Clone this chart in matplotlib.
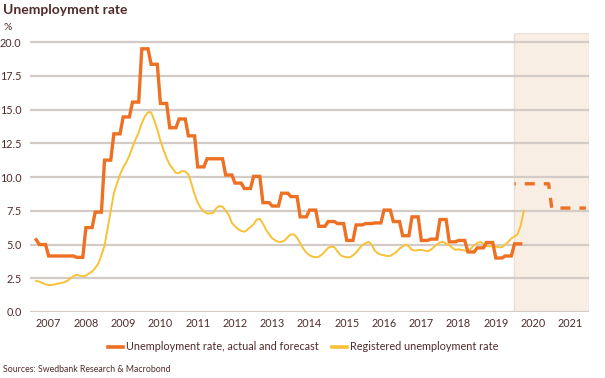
import numpy as np
import pandas as pd
import matplotlib
matplotlib.use("Agg")
import matplotlib.pyplot as plt
from matplotlib.lines import Line2D

# LFS unemployment rate, quarterly 2007Q1 - 2020Q1 (%), shown monthly from Mar 2007
unemp_q = [5.35, 5.0, 4.15, 4.15,
           4.15, 4.05, 6.25, 7.4,
           11.25, 13.2, 14.45, 15.55,
           19.5, 18.35, 15.45, 13.65,
           14.3, 13.05, 10.75, 11.35,
           11.35, 10.15, 9.55, 9.15,
           10.05, 8.1, 7.85, 8.8,
           8.55, 7.05, 7.55, 6.35,
           6.7, 6.55, 5.3, 6.45,
           6.55, 6.6, 7.55, 6.7,
           5.65, 7.05, 5.3, 5.4,
           6.85, 5.2, 5.3, 4.45,
           4.75, 5.15, 4.0, 4.15,
           5.05]

# forecast, annual averages
forecast_years = [2020, 2021]
forecast_vals = [9.5, 7.7]

# registered unemployment rate, monthly Mar 2007 - Apr 2020 (%)
registered = [2.3, 2.25, 2.15, 2.05, 2.0, 2.0, 2.05, 2.1, 2.15, 2.2,
              2.3, 2.5, 2.65, 2.75, 2.7, 2.65, 2.7, 2.85, 3.0, 3.25, 3.6, 4.2,
              4.9, 6.2, 7.5, 8.8, 9.5, 10.2, 10.7, 11.1, 11.6, 12.2, 12.8, 13.3,
              14.0, 14.5, 14.8, 14.8, 14.2, 13.5, 12.7, 12.0, 11.4, 10.9, 10.6, 10.3,
              10.3, 10.45, 10.4, 10.2, 9.5, 8.7, 8.1, 7.7, 7.45, 7.3, 7.3, 7.35,
              7.7, 7.85, 7.8, 7.5, 7.2, 6.6, 6.35, 6.15, 6.0, 5.95, 6.1, 6.3,
              6.5, 6.85, 6.9, 6.55, 6.1, 5.75, 5.45, 5.3, 5.2, 5.2, 5.3, 5.55,
              5.75, 5.75, 5.5, 5.1, 4.7, 4.4, 4.2, 4.1, 4.05, 4.1, 4.25, 4.5,
              4.75, 4.85, 4.8, 4.5, 4.2, 4.1, 4.05, 4.05, 4.2, 4.4, 4.7, 4.95,
              5.1, 5.2, 5.0, 4.55, 4.35, 4.25, 4.2, 4.15, 4.15, 4.3, 4.45, 4.7,
              4.85, 5.0, 4.85, 4.6, 4.55, 4.6, 4.6, 4.55, 4.5, 4.6, 4.8, 5.0,
              5.15, 5.2, 5.05, 4.95, 4.75, 4.6, 4.65, 4.6, 4.55, 4.5, 4.7, 4.95,
              5.1, 5.2, 5.05, 4.9, 4.85, 4.9, 4.85, 4.8, 4.8, 5.0, 5.2, 5.45,
              5.6, 5.75, 6.4, 7.5]

years = list(range(2007, 2022))
yticks = [0.0, 2.5, 5.0, 7.5, 10.0, 12.5, 15.0, 17.5, 20.0]

ORANGE = "#ee7023"
YELLOW = "#f8c237"
TEXT = "#512b2b"
GRID = "#d3ccc6"
SHADE = "#f9eee4"

plt.rcParams["font.family"] = ["Lato", "DejaVu Sans"]


def dec_year(dates):
    return dates.year + (dates.month - 1) / 12


# expand quarterly values to months
m_act = pd.date_range("2007-03-01", "2020-03-01", freq="MS")
q_idx = (m_act.year - 2007) * 4 + (m_act.month - 1) // 3
act_vals = np.array(unemp_q)[q_idx]

m_fc = pd.date_range("2020-01-01", "2021-12-01", freq="MS")
fc_vals = np.array(forecast_vals)[m_fc.year - forecast_years[0]]

m_reg = pd.date_range("2007-03-01", periods=len(registered), freq="MS")

fig = plt.figure(figsize=(6.05, 3.78), dpi=100)
ax = fig.add_axes([30 / 605, 1 - 312 / 378, 559 / 605, 279 / 378])

ax.axvspan(2020, 2022, color=SHADE, ec="#eadfd4", lw=1, zorder=0)
for t in yticks:
    ax.axhline(t, color=GRID, lw=1.6, zorder=1)

ax.plot(dec_year(m_reg), registered, color=YELLOW, lw=1.4, zorder=3)
ax.plot(dec_year(m_act), act_vals, color=ORANGE, lw=2.4, zorder=4,
        solid_joinstyle="miter")
ax.plot(dec_year(m_fc), fc_vals, color=ORANGE, lw=2.4, zorder=4,
        linestyle=(2.6, (3.0, 2.7)), dash_capstyle="butt")

ax.set_xlim(2007, 2022)
ax.set_ylim(0, 20.67)
ax.set_yticks(yticks)
ax.set_yticklabels([f"{t:.1f}" for t in yticks])
ax.set_xticks([y + 0.5 for y in years])
ax.set_xticklabels([str(y) for y in years])
ax.tick_params(length=0, labelsize=7.8, colors=TEXT)
ax.tick_params(axis="y", pad=6)
ax.tick_params(axis="x", pad=4)
for s in ax.spines.values():
    s.set_visible(False)

fig.text(3 / 605, 1 - 10 / 378, "Unemployment rate", fontsize=10,
         fontweight="bold", color=TEXT, va="center", ha="left")
fig.text(4 / 605, 1 - 27 / 378, "%", fontsize=7.5, color=TEXT,
         va="center", ha="left")
fig.text(3 / 605, 1 - 369 / 378, "Sources: Swedbank Research & Macrobond",
         fontsize=6.3, color=TEXT, va="center", ha="left")

handles = [Line2D([], [], color=ORANGE, lw=2.6),
           Line2D([], [], color=YELLOW, lw=2.6)]
labels = ["Unemployment rate, actual and forecast", "Registered unemployment rate"]
fig.legend(handles, labels, loc="center", bbox_to_anchor=(303 / 605, 1 - 347 / 378),
           ncol=2, frameon=False, fontsize=7.8, handlelength=1.4,
           handletextpad=0.3, columnspacing=1.2, labelcolor=TEXT)

fig.savefig("out.png", dpi=100)
